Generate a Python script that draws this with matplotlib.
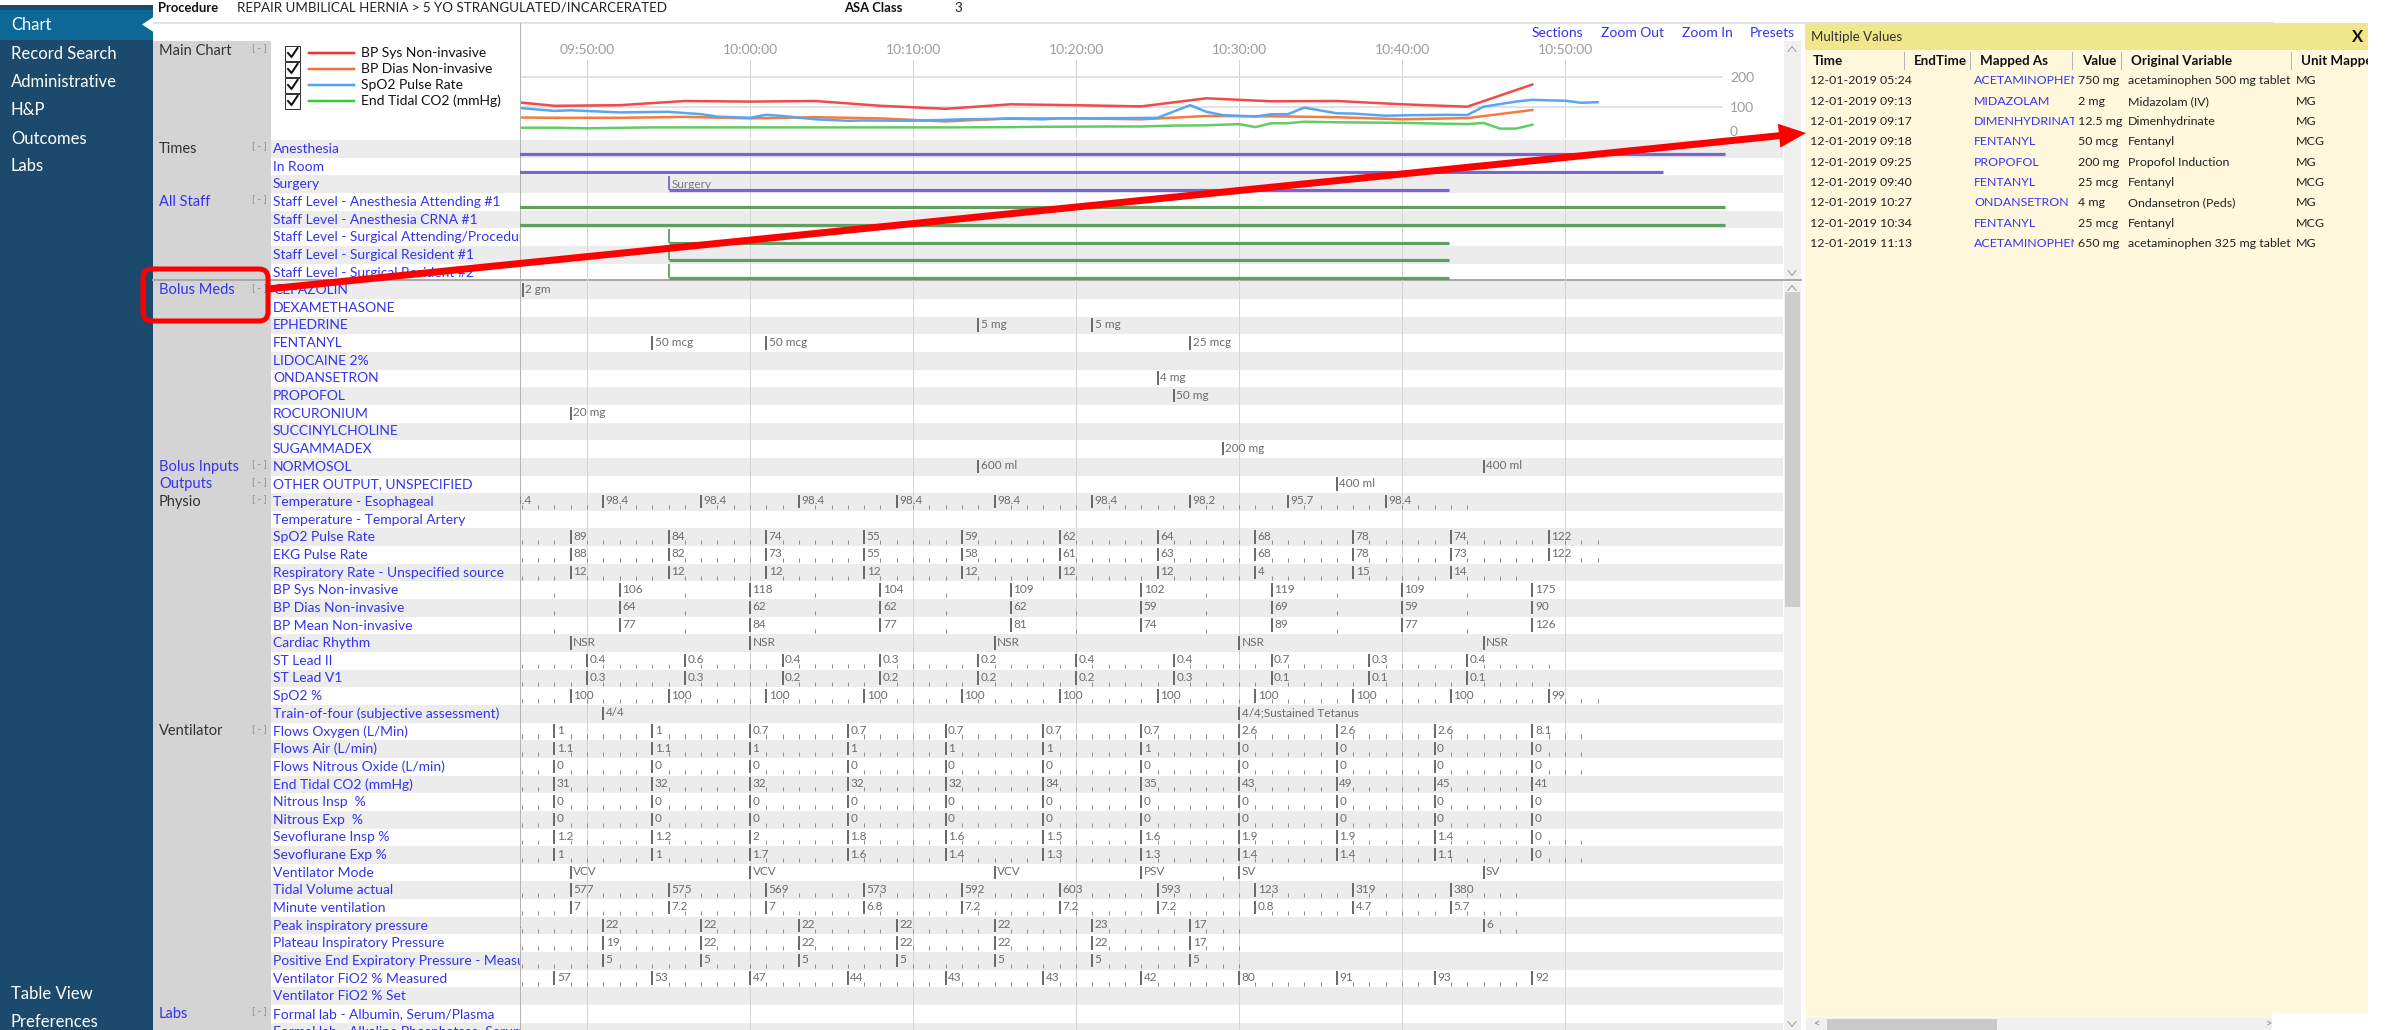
import matplotlib
matplotlib.use("Agg")
import matplotlib.pyplot as plt
from matplotlib.patches import Rectangle, Polygon, FancyBboxPatch
from matplotlib.transforms import Bbox, ScaledTranslation

plt.rcParams["font.family"] = ["Lato", "DejaVu Sans"]

W, H = 2391, 1030

# ---------------- data (time = minutes after 09:00) ----------------
TICK_MIN = [50, 60, 70, 80, 90, 100, 110]
TICK_LABELS = ["09:50:00", "10:00:00", "10:10:00", "10:20:00", "10:30:00", "10:40:00", "10:50:00"]

# main chart lines
BP_MIN = [44, 48, 52, 56, 60, 64, 68, 72, 76, 80, 84, 88, 92, 96, 100, 104, 108]
BP_SYS_LINE = [125, 104, 106, 120, 118, 120, 104, 94, 109, 106, 102, 129, 119, 120, 109, 101, 175]
BP_DIAS_LINE = [66, 64, 64, 67, 62, 66, 62, 52, 62, 62, 59, 70, 69, 66, 59, 63, 90]
PULSE_MIN = [46, 48, 49, 52, 55, 57, 58, 60, 61, 62, 64, 66, 67, 70, 73, 76, 78, 79, 83, 85,
             87, 88, 89, 91, 92, 93, 94, 96, 97, 99, 101, 103, 104, 105, 107, 108, 109, 110, 111, 112]
PULSE_LINE = [96, 87, 89, 82, 84, 76, 68, 64, 74, 70, 59, 54, 55, 54, 59, 61, 59, 62, 63, 64,
              106, 84, 73, 68, 76, 76, 98, 79, 78, 71, 73, 74, 73, 101, 118, 124, 122, 121, 114, 116]
ETCO2_MIN = [46, 48, 50, 54, 60, 66, 72, 76, 78, 82, 84, 86, 88, 90, 91, 92, 93, 94, 96, 100,
             102, 104, 105, 106, 107, 108]
ETCO2_LINE = [31, 31, 29, 32, 32, 32, 32, 33, 34, 35, 35, 38, 39, 43, 33, 46, 46, 51, 49, 47,
              45, 43, 47, 28, 28, 41]

LEGEND_NAMES = ["BP Sys Non-invasive", "BP Dias Non-invasive", "SpO2 Pulse Rate", "End Tidal CO2 (mmHg)"]

# times / staff bars (start, end)
ANESTHESIA_SPAN = (40, 119.8)
IN_ROOM_SPAN = (40, 116.0)
SURGERY_SPAN = (55.0, 102.9)
ANES_STAFF_SPAN = (40, 119.8)
SURG_STAFF_SPAN = (55.0, 102.9)

# bolus meds / inputs / outputs
CEFAZOLIN_T, CEFAZOLIN_V = [46.05], ["2 gm"]
EPHEDRINE_T, EPHEDRINE_V = [74, 81], ["5 mg", "5 mg"]
FENTANYL_T, FENTANYL_V = [54, 61, 87], ["50 mcg", "50 mcg", "25 mcg"]
ONDANSETRON_T, ONDANSETRON_V = [85], ["4 mg"]
PROPOFOL_T, PROPOFOL_V = [86], ["50 mg"]
ROCURONIUM_T, ROCURONIUM_V = [49], ["20 mg"]
SUGAMMADEX_T, SUGAMMADEX_V = [89], ["200 mg"]
NORMOSOL_T, NORMOSOL_V = [74, 105], ["600 ml", "400 ml"]
OTHER_OUT_T, OTHER_OUT_V = [96], ["400 ml"]

# physio
TEMP_T = [45, 51, 57, 63, 69, 75, 81, 87, 93, 99]
TEMP_V = ["98.4", "98.4", "98.4", "98.4", "98.4", "98.4", "98.4", "98.2", "95.7", "98.4"]
PR_T = [49, 55, 61, 67, 73, 79, 85, 91, 97, 103, 109]
SPO2_PR_V = ["89", "84", "74", "55", "59", "62", "64", "68", "78", "74", "122"]
EKG_PR_V = ["88", "82", "73", "55", "58", "61", "63", "68", "78", "73", "122"]
RESP_T = [49, 55, 61, 67, 73, 79, 85, 91, 97, 103]
RESP_V = ["12", "12", "12", "12", "12", "12", "12", "4", "15", "14"]
BP_T = [52, 60, 68, 76, 84, 92, 100, 108]
BP_MINOR_T = [48, 56, 64, 72, 80, 88, 96, 104]
BP_SYS_V = ["106", "118", "104", "109", "102", "119", "109", "175"]
BP_DIAS_V = ["64", "62", "62", "62", "59", "69", "59", "90"]
BP_MEAN_V = ["77", "84", "77", "81", "74", "89", "77", "126"]
RHYTHM_T = [49, 60, 75, 90, 105]
RHYTHM_V = ["NSR", "NSR", "NSR", "NSR", "NSR"]
ST_T = [50, 56, 62, 68, 74, 80, 86, 92, 98, 104]
ST_II_V = ["0.4", "0.6", "0.4", "0.3", "0.2", "0.4", "0.4", "0.7", "0.3", "0.4"]
ST_V1_V = ["0.3", "0.3", "0.2", "0.2", "0.2", "0.2", "0.3", "0.1", "0.1", "0.1"]
SPO2_V = ["100", "100", "100", "100", "100", "100", "100", "100", "100", "100", "99"]
TOF_T = [51, 90]
TOF_V = ["4/4", "4/4;Sustained Tetanus"]

# ventilator
VENT_T = [48, 54, 60, 66, 72, 78, 84, 90, 96, 102, 108]
FLOW_O2_V = ["1", "1", "0.7", "0.7", "0.7", "0.7", "0.7", "2.6", "2.6", "2.6", "8.1"]
FLOW_AIR_V = ["1.1", "1.1", "1", "1", "1", "1", "1", "0", "0", "0", "0"]
FLOW_N2O_V = ["0", "0", "0", "0", "0", "0", "0", "0", "0", "0", "0"]
ETCO2_V = ["31", "32", "32", "32", "32", "34", "35", "43", "49", "45", "41"]
N2O_INSP_V = ["0", "0", "0", "0", "0", "0", "0", "0", "0", "0", "0"]
N2O_EXP_V = ["0", "0", "0", "0", "0", "0", "0", "0", "0", "0", "0"]
SEVO_INSP_V = ["1.2", "1.2", "2", "1.8", "1.6", "1.5", "1.6", "1.9", "1.9", "1.4", "0"]
SEVO_EXP_V = ["1", "1", "1.7", "1.6", "1.4", "1.3", "1.3", "1.4", "1.4", "1.1", "0"]
VENT_MODE_T = [49, 60, 75, 84, 90, 105]
VENT_MODE_V = ["VCV", "VCV", "VCV", "PSV", "SV", "SV"]
TIDAL_V = ["577", "575", "569", "573", "592", "603", "593", "123", "319", "380"]
MINVENT_V = ["7", "7.2", "7", "6.8", "7.2", "7.2", "7.2", "0.8", "4.7", "5.7"]
PRESS_T = [45, 51, 57, 63, 69, 75, 81, 87]
PEAK_T = [45, 51, 57, 63, 69, 75, 81, 87, 105]
PEAK_V = ["21", "22", "22", "22", "22", "22", "23", "17", "6"]
PLATEAU_V = ["21", "19", "22", "22", "22", "22", "22", "17"]
PEEP_V = ["5", "5", "5", "5", "5", "5", "5", "5"]
FIO2_V = ["57", "53", "47", "44", "43", "43", "42", "80", "91", "93", "92"]

# minutes with a recorded (unlabelled) sample
SAMPLE_MIN = [46, 47, 48, 49, 50, 51, 52, 53, 54, 55, 56, 57, 58, 59, 60, 61, 62, 63, 64, 65,
              66, 67, 68, 69, 70, 71, 72, 73, 74, 75, 76, 77, 78, 79, 80, 81, 82, 83, 84, 85,
              86, 87, 88, 89, 90, 91, 92, 93, 94, 95, 96, 97, 98, 99, 100, 101, 102, 103, 104,
              105, 106, 107, 108, 109, 110, 111, 112]

ROW_NAMES = [
    "Anesthesia", "In Room", "Surgery",
    "Staff Level - Anesthesia Attending #1", "Staff Level - Anesthesia CRNA #1",
    "Staff Level - Surgical Attending/Procedure", "Staff Level - Surgical Resident #1",
    "Staff Level - Surgical Resident #2",
    "CEFAZOLIN", "DEXAMETHASONE", "EPHEDRINE", "FENTANYL", "LIDOCAINE 2%", "ONDANSETRON",
    "PROPOFOL", "ROCURONIUM", "SUCCINYLCHOLINE", "SUGAMMADEX",
    "NORMOSOL", "OTHER OUTPUT, UNSPECIFIED",
    "Temperature - Esophageal", "Temperature - Temporal Artery", "SpO2 Pulse Rate",
    "EKG Pulse Rate", "Respiratory Rate - Unspecified source", "BP Sys Non-invasive",
    "BP Dias Non-invasive", "BP Mean Non-invasive", "Cardiac Rhythm", "ST Lead II",
    "ST Lead V1", "SpO2 %", "Train-of-four (subjective assessment)",
    "Flows Oxygen (L/Min)", "Flows Air (L/min)", "Flows Nitrous Oxide (L/min)",
    "End Tidal CO2 (mmHg)", "Nitrous Insp  %", "Nitrous Exp  %", "Sevoflurane Insp %",
    "Sevoflurane Exp %", "Ventilator Mode", "Tidal Volume actual", "Minute ventilation",
    "Peak inspiratory pressure", "Plateau Inspiratory Pressure",
    "Positive End Expiratory Pressure - Measured", "Ventilator FiO2 % Measured",
    "Ventilator FiO2 % Set",
    "Formal lab - Albumin, Serum/Plasma", "Formal lab - Alkaline Phosphatase, Serum/Plasma",
]

SECTION_NAMES = ["Times", "All Staff", "Bolus Meds", "Bolus Inputs", "Outputs", "Physio", "Ventilator", "Labs"]
SECTION_FIRST_ROW = [0, 3, 8, 18, 19, 20, 33, 49]
SECTION_IS_LINK = [False, True, True, True, True, False, False, True]

SIDEBAR_TOP = ["Chart", "Record Search", "Administrative", "H&P", "Outcomes", "Labs"]
SIDEBAR_BOTTOM = ["Table View", "Preferences"]

POPUP_COLUMNS = ["Time", "EndTime", "Mapped As", "Value", "Original Variable", "Unit Mapped"]
POPUP_TIME = ["12-01-2019 05:24", "12-01-2019 09:13", "12-01-2019 09:17", "12-01-2019 09:18",
              "12-01-2019 09:25", "12-01-2019 09:40", "12-01-2019 10:27", "12-01-2019 10:34",
              "12-01-2019 11:13"]
POPUP_MAPPED = ["ACETAMINOPHEN", "MIDAZOLAM", "DIMENHYDRINATE", "FENTANYL", "PROPOFOL",
                "FENTANYL", "ONDANSETRON", "FENTANYL", "ACETAMINOPHEN"]
POPUP_VALUE = ["750 mg", "2 mg", "12.5 mg", "50 mcg", "200 mg", "25 mcg", "4 mg", "25 mcg", "650 mg"]
POPUP_ORIG = ["acetaminophen 500 mg tablet", "Midazolam (IV)", "Dimenhydrinate", "Fentanyl",
              "Propofol Induction", "Fentanyl", "Ondansetron (Peds)", "Fentanyl",
              "acetaminophen 325 mg tablet"]
POPUP_UNIT = ["MG", "MG", "MG", "MCG", "MG", "MCG", "MG", "MCG", "MG"]

# ---------------- layout ----------------
PT = 0.72                 # points per pixel at 100 dpi
ROW0_Y = 149.0            # centre of first grid row (px)
ROW_H = 17.65
X_AT_0950 = 587.0
PX_PER_MIN = 16.3
GRID_X0, GRID_X1 = 520, 1783
TOP_Y = ROW0_Y - ROW_H / 2
BLUE = "#3434ee"
SIDEBAR = "#1c4a6c"
STRIPE = "#ececec"
FS_ROW = 10
FS_SECTION = 10.5
FS_VALUE = 8.5


def px_to_min(x):
    return 50 + (x - X_AT_0950) / PX_PER_MIN


def row_y(i):
    return ROW0_Y + i * ROW_H


def fig_rect(x0, y0, x1, y1):
    return [x0 / W, 1 - y1 / H, (x1 - x0) / W, (y1 - y0) / H]


def box(ax, x0, y0, x1, y1, color, z=1, ec="none", lw=0):
    ax.add_patch(Rectangle((x0, y0), x1 - x0, y1 - y0, facecolor=color,
                           edgecolor=ec, linewidth=lw, zorder=z))


def clip_px(txt, x0, y0, x1, y1):
    txt.set_clip_box(Bbox([[x0, H - y1], [x1, H - y0]]))
    txt.set_clip_on(True)


def chevron(ax, x, y, up=True):
    d = -2.5 if up else 2.5
    ax.plot([x - 4, x, x + 4], [y - d, y + d, y - d], color="#9a9a9a", lw=1 * PT, zorder=3)


fig = plt.figure(figsize=(W / 100, H / 100), dpi=100)
fig.patch.set_facecolor("white")

# ---------------- background / chrome ----------------
bg = fig.add_axes([0, 0, 1, 1])
bg.set_xlim(0, W)
bg.set_ylim(H, 0)
bg.axis("off")

# sidebar
box(bg, 0, 5, 153, H, SIDEBAR)
box(bg, 0, 10, 153, 40, "#0d6898", z=2)
bg.add_patch(Polygon([(153.5, 17), (142, 24.5), (153.5, 32)], closed=True, facecolor="white",
                     edgecolor="none", zorder=3))
for name, y in zip(SIDEBAR_TOP, [25, 54, 82, 110, 139, 166]):
    bg.text(11, y, name, color="white", fontsize=12, va="center", ha="left", zorder=4)
for name, y in zip(SIDEBAR_BOTTOM, [994, 1022]):
    bg.text(11, y, name, color="white", fontsize=12, va="center", ha="left", zorder=4)

# header
bg.text(158, 8, "Procedure", fontsize=9.4, fontweight="bold", va="center", color="#111")
bg.text(237, 8, "REPAIR UMBILICAL HERNIA > 5 YO STRANGULATED/INCARCERATED", fontsize=9.6,
        va="center", color="#222")
bg.text(844, 8, "ASA Class", fontsize=9.4, fontweight="bold", va="center", color="#111")
bg.text(954, 8, "3", fontsize=9.6, va="center", color="#222")
bg.plot([153, 2272], [23, 23], color="#e2e2e2", lw=2 * PT, zorder=1)

# section column and row stripes
box(bg, 153, 41, 271, H, "#d4d4d4")
for i in range(len(ROW_NAMES)):
    if i % 2 == 0:
        box(bg, 271, row_y(i) - ROW_H / 2, GRID_X1, row_y(i) + ROW_H / 2, STRIPE)

bg.plot([GRID_X0, GRID_X0], [23, H], color="#b4b4b4", lw=1 * PT, zorder=2)
bg.plot([153, 1801], [280, 280], color="#a9a9a9", lw=2 * PT, zorder=6)

# section labels
bg.text(159, 51, "Main Chart", fontsize=FS_SECTION, va="center", color="#333")
bg.text(252, 49, "[ - ]", fontsize=7, va="center", color="#8a8a8a")
for name, r, link in zip(SECTION_NAMES, SECTION_FIRST_ROW, SECTION_IS_LINK):
    bg.text(159, row_y(r), name, fontsize=FS_SECTION, va="center",
            color=BLUE if link else "#333", zorder=3)
    bg.text(252, row_y(r) - 2, "[ - ]", fontsize=7, va="center", color="#8a8a8a", zorder=3)

# legend
LEGEND_COLORS = ["#ff2b2b", "#ff6b35", "#4ea2ff", "#3cc63c"]
for k, (name, col) in enumerate(zip(LEGEND_NAMES, LEGEND_COLORS)):
    y = 53 + 16 * k
    box(bg, 285, y - 7.5, 300, y + 7.5, "white", z=3, ec="#333", lw=1 * PT)
    bg.plot([288, 291.5, 297.5], [y, y + 4, y - 5], color="#111", lw=2 * PT, zorder=4)
    bg.plot([309, 354], [y, y], color=col, lw=2.5 * PT, zorder=3)
    bg.text(361, y, name, fontsize=FS_ROW, va="center", color="#111", zorder=3)

# links
for name, x in zip(["Sections", "Zoom Out", "Zoom In", "Presets"], [1532, 1601, 1682, 1750]):
    bg.text(x, 33, name, fontsize=10, va="center", color=BLUE)

# scrollbars
box(bg, 1784, 41, 1801, 279, "#f0f0f0")
chevron(bg, 1792, 49, up=True)
chevron(bg, 1792, 273, up=False)
box(bg, 1784, 282, 1801, H, "#f0f0f0")
box(bg, 1785, 292, 1800, 607, "#cdcdcd", z=2)
chevron(bg, 1792, 288, up=True)
chevron(bg, 1792, 1024, up=False)

# ---------------- main chart ----------------
ch = fig.add_axes(fig_rect(521, 60, 1723, 138))
ch.set_xlim(px_to_min(521), px_to_min(1723))
ch.set_ylim((137 - 138) / 0.3, (137 - 60) / 0.3)
ch.patch.set_alpha(0)
for s in ch.spines.values():
    s.set_visible(False)
for m in TICK_MIN:
    ch.axvline(m, color="#d4d4d4", lw=1 * PT, zorder=1)
for v in [100, 200]:
    ch.axhline(v, color="#d9d9d9", lw=1.5 * PT, zorder=1)
ch.plot(BP_MIN, BP_SYS_LINE, color="#f24a4a", lw=2.5 * PT, zorder=3)
ch.plot(BP_MIN, BP_DIAS_LINE, color="#f67a40", lw=2.5 * PT, zorder=3)
ch.plot(PULSE_MIN, PULSE_LINE, color="#58a6f2", lw=2.5 * PT, zorder=4)
ch.plot(ETCO2_MIN, ETCO2_LINE, color="#62cc62", lw=2.5 * PT, zorder=3)
ch.xaxis.tick_top()
ch.set_xticks(TICK_MIN)
ch.set_xticklabels(TICK_LABELS)
ch.yaxis.tick_right()
ch.set_yticks([0, 100, 200])
ch.tick_params(length=0, labelsize=10, labelcolor="#9c9c9c")
ch.tick_params(axis="x", pad=3)
ch.tick_params(axis="y", pad=5)
zero_lbl = ch.get_yticklabels()[0]
zero_lbl.set_transform(zero_lbl.get_transform() + ScaledTranslation(0, 0.06, fig.dpi_scale_trans))

# ---------------- row labels ----------------
ylim_rows = ((H - ROW0_Y) / ROW_H, -0.5)
lab = fig.add_axes(fig_rect(271, TOP_Y, GRID_X0, H))
lab.set_xlim(271, GRID_X0)
lab.set_ylim(*ylim_rows)
lab.axis("off")
for i, name in enumerate(ROW_NAMES):
    lab.text(273, i, name, fontsize=FS_ROW, va="center", ha="left", color=BLUE, clip_on=True)

# ---------------- grid ----------------
grid = fig.add_axes(fig_rect(GRID_X0, TOP_Y, GRID_X1, H))
grid.set_xlim(px_to_min(GRID_X0), px_to_min(GRID_X1))
grid.set_ylim(*ylim_rows)
grid.axis("off")
for m in TICK_MIN:
    grid.axvline(m, color="#d4d4d4", lw=1 * PT, zorder=1)

PURPLE, GREEN = "#7766d2", "#5f9f5f"
BARS = [(0, ANESTHESIA_SPAN, PURPLE), (1, IN_ROOM_SPAN, PURPLE), (2, SURGERY_SPAN, PURPLE),
        (3, ANES_STAFF_SPAN, GREEN), (4, ANES_STAFF_SPAN, GREEN), (5, SURG_STAFF_SPAN, GREEN),
        (6, SURG_STAFF_SPAN, GREEN), (7, SURG_STAFF_SPAN, GREEN)]
for i, (a, b), col in BARS:
    grid.hlines(i + 0.31, a, b, color=col, lw=3.2 * PT, zorder=3)
    grid.vlines(a, i - 0.48, i + 0.31, color=col, lw=1.8 * PT, zorder=3)
grid.annotate("Surgery", (SURGERY_SPAN[0], 2), xytext=(3, 0), textcoords="offset pixels",
              va="center", fontsize=FS_VALUE, color="#777", annotation_clip=False, clip_on=True)


def minute_ticks(ranges, skip):
    return [m for m in SAMPLE_MIN if any(a <= m <= b for a, b in ranges) and m not in skip]


EVENTS = {
    "CEFAZOLIN": (CEFAZOLIN_T, CEFAZOLIN_V, []),
    "EPHEDRINE": (EPHEDRINE_T, EPHEDRINE_V, []),
    "FENTANYL": (FENTANYL_T, FENTANYL_V, []),
    "ONDANSETRON": (ONDANSETRON_T, ONDANSETRON_V, []),
    "PROPOFOL": (PROPOFOL_T, PROPOFOL_V, []),
    "ROCURONIUM": (ROCURONIUM_T, ROCURONIUM_V, []),
    "SUGAMMADEX": (SUGAMMADEX_T, SUGAMMADEX_V, []),
    "NORMOSOL": (NORMOSOL_T, NORMOSOL_V, []),
    "OTHER OUTPUT, UNSPECIFIED": (OTHER_OUT_T, OTHER_OUT_V, []),
    "Temperature - Esophageal": (TEMP_T, TEMP_V, minute_ticks([(46, 104)], TEMP_T)),
    "SpO2 Pulse Rate": (PR_T, SPO2_PR_V, minute_ticks([(46, 112)], PR_T)),
    "EKG Pulse Rate": (PR_T, EKG_PR_V, minute_ticks([(46, 112)], PR_T)),
    "Respiratory Rate - Unspecified source": (RESP_T, RESP_V, minute_ticks([(46, 107)], RESP_T)),
    "BP Sys Non-invasive": (BP_T, BP_SYS_V, BP_MINOR_T),
    "BP Dias Non-invasive": (BP_T, BP_DIAS_V, BP_MINOR_T),
    "BP Mean Non-invasive": (BP_T, BP_MEAN_V, BP_MINOR_T),
    "Cardiac Rhythm": (RHYTHM_T, RHYTHM_V, []),
    "ST Lead II": (ST_T, ST_II_V, minute_ticks([(46, 109)], ST_T)),
    "ST Lead V1": (ST_T, ST_V1_V, minute_ticks([(46, 109)], ST_T)),
    "SpO2 %": (PR_T, SPO2_V, minute_ticks([(46, 112)], PR_T)),
    "Train-of-four (subjective assessment)": (TOF_T, TOF_V, []),
    "Flows Oxygen (L/Min)": (VENT_T, FLOW_O2_V, minute_ticks([(46, 111)], VENT_T)),
    "Flows Air (L/min)": (VENT_T, FLOW_AIR_V, minute_ticks([(46, 111)], VENT_T)),
    "Flows Nitrous Oxide (L/min)": (VENT_T, FLOW_N2O_V, minute_ticks([(46, 111)], VENT_T)),
    "End Tidal CO2 (mmHg)": (VENT_T, ETCO2_V, minute_ticks([(46, 107)], VENT_T)),
    "Nitrous Insp  %": (VENT_T, N2O_INSP_V, minute_ticks([(46, 107)], VENT_T)),
    "Nitrous Exp  %": (VENT_T, N2O_EXP_V, minute_ticks([(46, 107)], VENT_T)),
    "Sevoflurane Insp %": (VENT_T, SEVO_INSP_V, minute_ticks([(46, 111)], VENT_T)),
    "Sevoflurane Exp %": (VENT_T, SEVO_EXP_V, minute_ticks([(46, 111)], VENT_T)),
    "Ventilator Mode": (VENT_MODE_T, VENT_MODE_V, minute_ticks([(89, 89)], VENT_MODE_T)),
    "Tidal Volume actual": (RESP_T, TIDAL_V, minute_ticks([(46, 107)], RESP_T)),
    "Minute ventilation": (RESP_T, MINVENT_V, minute_ticks([(46, 107)], RESP_T)),
    "Peak inspiratory pressure": (PEAK_T, PEAK_V, minute_ticks([(46, 90), (106, 107)], PEAK_T)),
    "Plateau Inspiratory Pressure": (PRESS_T, PLATEAU_V, minute_ticks([(46, 90)], PRESS_T)),
    "Positive End Expiratory Pressure - Measured": (PRESS_T, PEEP_V, minute_ticks([(46, 90)], PRESS_T)),
    "Ventilator FiO2 % Measured": (VENT_T, FIO2_V, minute_ticks([(46, 107)], VENT_T)),
}

for i, name in enumerate(ROW_NAMES):
    if name not in EVENTS:
        continue
    times, labels, minor = EVENTS[name]
    if minor:
        grid.vlines(minor, i + 0.17, i + 0.4, color="#8c8c8c", lw=1 * PT, zorder=3)
    grid.vlines(times, i - 0.4, i + 0.36, color="#6b6b6b", lw=2 * PT, zorder=4)
    for t, s in zip(times, labels):
        grid.annotate(s, (t, i), xytext=(2.5, 1), textcoords="offset pixels", va="center",
                      ha="left", fontsize=FS_VALUE, color="#6c6c6c", annotation_clip=False,
                      clip_on=True, zorder=5)

# ---------------- overlay: popup + annotation ----------------
top = fig.add_axes([0, 0, 1, 1])
top.set_xlim(0, W)
top.set_ylim(H, 0)
top.axis("off")

box(top, 1805, 23, 2368, 1013, "#fff8dc", z=1)
box(top, 1806, 1013, 2272, 1018, "#fff8dc", z=1)
box(top, 1805, 23, 2368, 50, "#f0e68c", z=2)
top.text(1811, 37, "Multiple Values", fontsize=9.5, va="center", color="#333", zorder=3)
top.text(2358, 37, "X", fontsize=12, fontweight="bold", va="center", ha="center", color="#111", zorder=3)
HEADER_X = [1813, 1914, 1980, 2082, 2131, 2301]
for name, x in zip(POPUP_COLUMNS, HEADER_X):
    t = top.text(x, 61, name, fontsize=9.6, fontweight="bold", va="center", color="#111", zorder=3)
    clip_px(t, 1805, 23, 2368, 1013)
for x in [1904, 1970, 2072, 2121, 2291]:
    top.plot([x, x], [52, 69], color="#b5b5b5", lw=1 * PT, zorder=3)
for k in range(len(POPUP_TIME)):
    y = 81 + 20.3 * k
    top.text(1810, y, POPUP_TIME[k], fontsize=8.9, va="center", color="#222", zorder=3)
    t = top.text(1974, y, POPUP_MAPPED[k], fontsize=8.9, va="center", color=BLUE, zorder=3)
    clip_px(t, 1970, 70, 2074, 1013)
    top.text(2078, y, POPUP_VALUE[k], fontsize=8.9, va="center", color="#222", zorder=3)
    top.text(2128, y, POPUP_ORIG[k], fontsize=8.9, va="center", color="#222", zorder=3)
    top.text(2296, y, POPUP_UNIT[k], fontsize=8.9, va="center", color="#222", zorder=3)

box(top, 1806, 1018, 2272, H, "#f0f0f0", z=1)
box(top, 1827, 1019, 1997, H, "#c9c9c9", z=2)
top.text(1816, 1024, "<", fontsize=8, va="center", ha="center", color="#888", zorder=3)
top.text(2269, 1024, ">", fontsize=8, va="center", ha="center", color="#888", zorder=3)

# red highlight box and arrow
top.add_patch(FancyBboxPatch((143, 269), 125, 52, boxstyle="round,pad=0,rounding_size=9",
                             facecolor="none", edgecolor="#ff0000", linewidth=5 * PT, zorder=10))
tip = (1806.0, 133.0)
start = (268.0, 289.0)
dx, dy = tip[0] - start[0], tip[1] - start[1]
length = (dx ** 2 + dy ** 2) ** 0.5
ux, uy = dx / length, dy / length
nx, ny = -uy, ux
base = (tip[0] - 27 * ux, tip[1] - 27 * uy)
top.plot([start[0], base[0] + 2 * ux], [start[1], base[1] + 2 * uy], color="#ff0000",
         lw=7 * PT, solid_capstyle="butt", zorder=10)
top.add_patch(Polygon([tip, (base[0] + 12 * nx, base[1] + 12 * ny), (base[0] - 12 * nx, base[1] - 12 * ny)],
                      closed=True, facecolor="#ff0000", edgecolor="none", zorder=10))

fig.savefig("out.png", dpi=100)
